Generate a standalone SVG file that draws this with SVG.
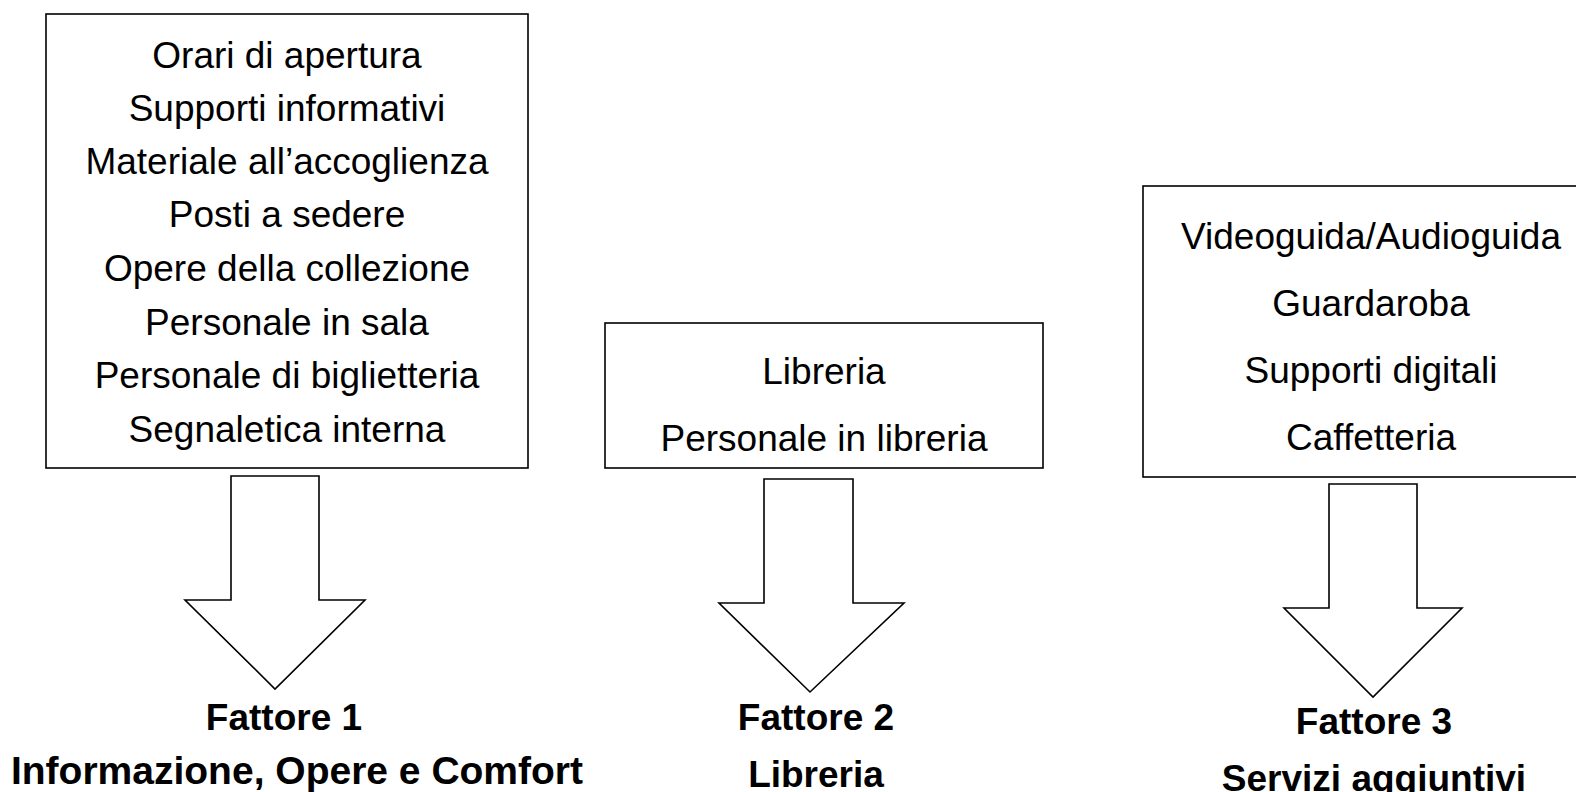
<svg xmlns="http://www.w3.org/2000/svg" width="1576" height="792" viewBox="0 0 1576 792">
<style>
.box{fill:#fff;stroke:#000;stroke-width:1.6}
.arr{fill:#fff;stroke:#000;stroke-width:1.6;stroke-linejoin:miter}
.t{font-family:"Liberation Sans",Arial,sans-serif;font-size:37px;fill:#000;text-anchor:middle}
.b{font-weight:bold}
</style>
<rect width="1576" height="792" fill="#fff"/>
<g id="box1">
<rect class="box" x="46" y="14" width="482" height="454"/>
<text class="t" x="287" y="68">Orari di apertura</text>
<text class="t" x="287" y="121">Supporti informativi</text>
<text class="t" x="287" y="174">Materiale all’accoglienza</text>
<text class="t" x="287" y="227">Posti a sedere</text>
<text class="t" x="287" y="281">Opere della collezione</text>
<text class="t" x="287" y="335">Personale in sala</text>
<text class="t" x="287" y="388">Personale di biglietteria</text>
<text class="t" x="287" y="442">Segnaletica interna</text>
</g>
<g id="box2">
<rect class="box" x="605" y="323" width="438" height="145"/>
<text class="t" x="824" y="384">Libreria</text>
<text class="t" x="824" y="451">Personale in libreria</text>
</g>
<g id="box3">
<rect class="box" x="1143" y="186" width="440" height="291"/>
<text class="t" x="1371" y="249">Videoguida/Audioguida</text>
<text class="t" x="1371" y="316">Guardaroba</text>
<text class="t" x="1371" y="383">Supporti digitali</text>
<text class="t" x="1371" y="450">Caffetteria</text>
</g>
<g id="connectors">
<polygon class="arr" points="231,476 319,476 319,600 365,600 275,689 185,600 231,600"/>
<polygon class="arr" points="764,479 853,479 853,603 904,603 810,692 719,603 764,603"/>
<polygon class="arr" points="1329,484 1417,484 1417,608 1462,608 1373,697 1284,608 1329,608"/>
</g>
<g id="label1">
<text class="t b" x="284" y="730">Fattore 1</text>
<text class="t b" x="297" y="784" style="font-size:39px">Informazione, Opere e Comfort</text>
</g>
<g id="label2">
<text class="t b" x="816" y="730">Fattore 2</text>
<text class="t b" x="816" y="787">Libreria</text>
</g>
<g id="label3">
<text class="t b" x="1374" y="734">Fattore 3</text>
<text class="t b" x="1374" y="791">Servizi aggiuntivi</text>
</g>
</svg>
